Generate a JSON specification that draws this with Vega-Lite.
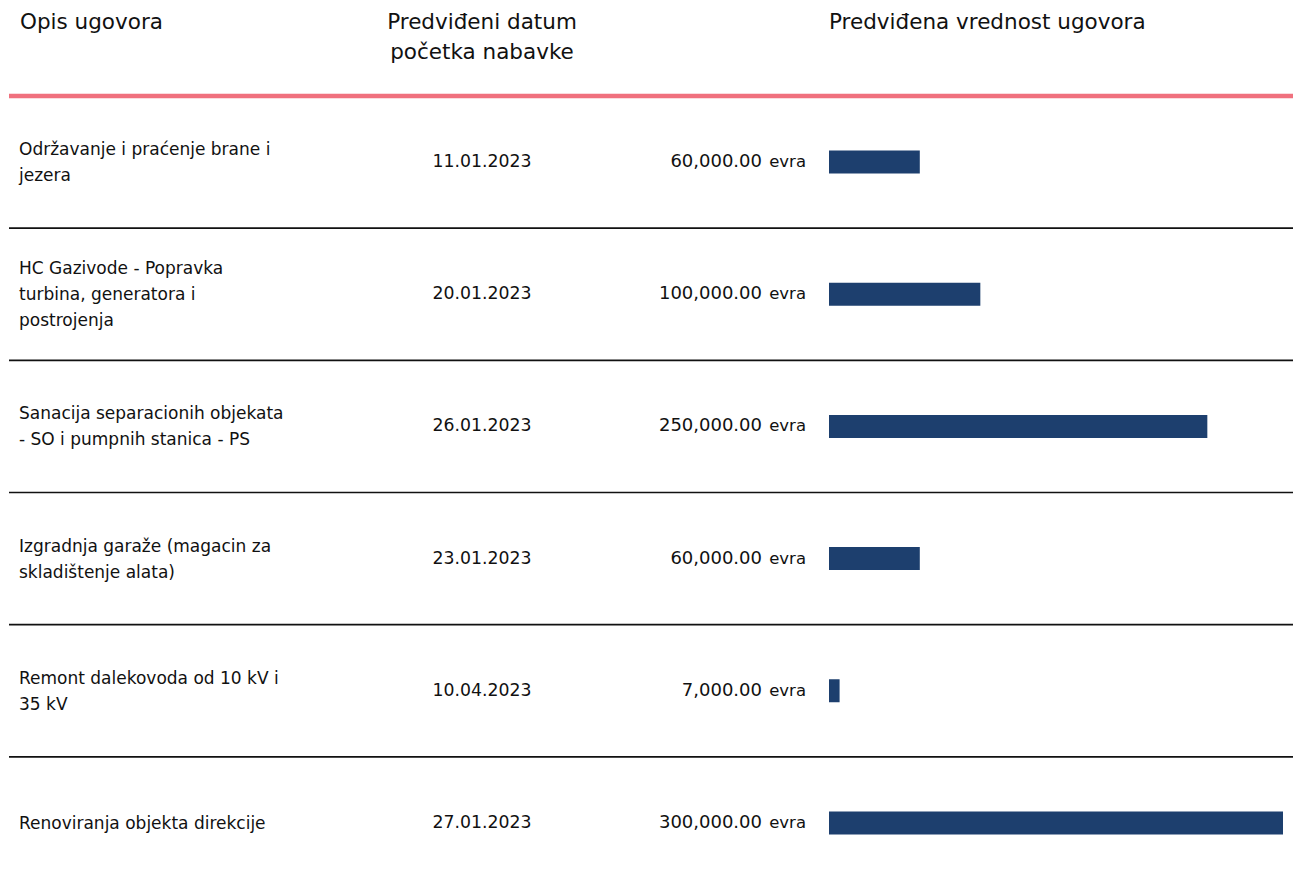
{
  "$schema": "https://vega.github.io/schema/vega-lite/v6.json",
  "background": "white",
  "padding": {"left": 6, "right": 3, "top": 12, "bottom": 0},
  "spacing": 0,
  "bounds": "flush",
  "config": {
    "view": {"stroke": null},
    "font": "DejaVu Sans",
    "title": {"font": "DejaVu Sans", "fontSize": 21.5, "fontWeight": "normal", "color": "#111111", "lineHeight": 30, "frame": "group"}
  },
  "data": {
    "values": [
      {"opis": ["Održavanje i praćenje brane i", "jezera"], "datum": "11.01.2023", "vrednost": 60000},
      {"opis": ["HC Gazivode - Popravka", "turbina, generatora i", "postrojenja"], "datum": "20.01.2023", "vrednost": 100000},
      {"opis": ["Sanacija separacionih objekata", "- SO i pumpnih stanica - PS"], "datum": "26.01.2023", "vrednost": 250000},
      {"opis": ["Izgradnja garaže (magacin za", "skladištenje alata)"], "datum": "23.01.2023", "vrednost": 60000},
      {"opis": ["Remont dalekovoda od 10 kV i", "35 kV"], "datum": "10.04.2023", "vrednost": 7000},
      {"opis": ["Renoviranja objekta direkcije"], "datum": "27.01.2023", "vrednost": 300000}
    ]
  },
  "hconcat": [
    {
      "width": 331,
      "height": 793,
      "title": {"text": "Opis ugovora", "anchor": "start", "dx": 11, "offset": 60},
      "layer": [
        {
          "mark": {"type": "text", "align": "left", "baseline": "middle", "fontSize": 17, "lineHeight": 26, "color": "#111111"},
          "encoding": {
            "y": {"field": "datum", "type": "nominal", "sort": null, "axis": null, "scale": {"paddingInner": 0, "paddingOuter": 0}},
            "yOffset": {"field": "opis.length", "type": "quantitative", "scale": {"domain": [1, 3], "range": [67, 41]}},
            "x": {"value": 10},
            "text": {"field": "opis", "type": "nominal"}
          }
        },
        {
          "mark": {"type": "rule"},
          "encoding": {
            "y": {"field": "datum", "type": "nominal", "sort": null, "axis": null, "bandPosition": 0},
            "color": {"condition": {"test": "datum.datum === '11.01.2023'", "value": "#f0717e"}, "value": "#111111"},
            "strokeWidth": {"condition": {"test": "datum.datum === '11.01.2023'", "value": 4.5}, "value": 1.6}
          }
        }
      ]
    },
    {
      "width": 478,
      "height": 793,
      "title": {"text": ["Predviđeni datum", "početka nabavke"], "anchor": "start", "align": "center", "dx": 142, "offset": 30},
      "layer": [
        {
          "mark": {"type": "text", "align": "center", "baseline": "middle", "fontSize": 17.3, "color": "#111111"},
          "encoding": {
            "y": {"field": "datum", "type": "nominal", "sort": null, "axis": null, "scale": {"paddingInner": 0, "paddingOuter": 0}},
            "x": {"value": 142},
            "text": {"field": "datum", "type": "nominal"}
          }
        },
        {
          "mark": {"type": "rule"},
          "encoding": {
            "y": {"field": "datum", "type": "nominal", "sort": null, "axis": null, "bandPosition": 0},
            "color": {"condition": {"test": "datum.datum === '11.01.2023'", "value": "#f0717e"}, "value": "#111111"},
            "strokeWidth": {"condition": {"test": "datum.datum === '11.01.2023'", "value": 4.5}, "value": 1.6}
          }
        }
      ]
    },
    {
      "width": 475,
      "height": 793,
      "title": {"text": "Predviđena vrednost ugovora", "anchor": "start", "dx": 11, "offset": 60},
      "layer": [
        {
          "mark": {"type": "bar", "height": 23, "color": "#1d3f6e"},
          "encoding": {
            "y": {"field": "datum", "type": "nominal", "sort": null, "axis": null, "scale": {"paddingInner": 0, "paddingOuter": 0}},
            "x": {"field": "vrednost", "type": "quantitative", "axis": null, "scale": {"domain": [0, 300000], "range": [11, 465], "nice": false, "zero": true}}
          }
        },
        {
          "mark": {"type": "text", "align": "right", "baseline": "middle", "fontSize": 18, "dx": -67, "color": "#111111"},
          "encoding": {
            "y": {"field": "datum", "type": "nominal", "sort": null, "axis": null},
            "x": {"datum": 0, "type": "quantitative"},
            "text": {"field": "vrednost", "type": "quantitative", "format": ",.2f"}
          }
        },
        {
          "mark": {"type": "text", "align": "right", "baseline": "middle", "fontSize": 16.5, "dx": -23, "color": "#111111", "text": "evra"},
          "encoding": {
            "y": {"field": "datum", "type": "nominal", "sort": null, "axis": null},
            "x": {"datum": 0, "type": "quantitative"}
          }
        },
        {
          "mark": {"type": "rule"},
          "encoding": {
            "y": {"field": "datum", "type": "nominal", "sort": null, "axis": null, "bandPosition": 0},
            "color": {"condition": {"test": "datum.datum === '11.01.2023'", "value": "#f0717e"}, "value": "#111111"},
            "strokeWidth": {"condition": {"test": "datum.datum === '11.01.2023'", "value": 4.5}, "value": 1.6}
          }
        }
      ]
    }
  ]
}
